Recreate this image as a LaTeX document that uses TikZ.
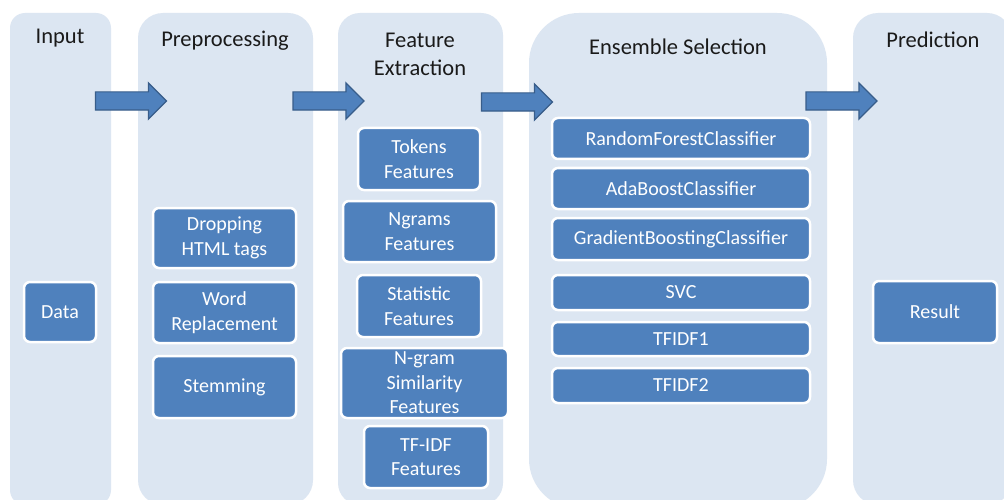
\documentclass[tikz,border=0pt]{standalone}
\usepackage{fontspec}
\setmainfont{Carlito}
\usetikzlibrary{shapes.arrows}
\definecolor{lanefill}{HTML}{DCE6F2}
\definecolor{boxfill}{HTML}{4F81BD}
\definecolor{arrowline}{HTML}{385D8A}
\definecolor{titletext}{HTML}{1A1A1A}
\tikzset{
  lane/.style={fill=lanefill, draw=none, inner sep=0pt, outer sep=0pt, rectangle},
  lanetitle/.style={text=titletext, font=\fontsize{22.5}{28}\selectfont, align=center, inner sep=0pt},
  stepbox/.style={rectangle, fill=boxfill, draw=white, line width=2.5pt, rounded corners=6pt,
    text=white, font=\fontsize{20}{24.5}\selectfont, align=center, inner sep=0pt, outer sep=0pt},
  blockarrow/.style={single arrow, fill=boxfill, draw=arrowline, line width=1.2pt,
    minimum height=71pt, minimum width=35pt, single arrow head extend=9pt,
    inner sep=8.5pt, outer sep=0pt}
}
\begin{document}
\begin{tikzpicture}[x=1pt, y=-1pt]
\useasboundingbox (0,0) rectangle (1004,500);
\clip (0,0) rectangle (1004,500);
\fill[white] (0,0) rectangle (1004,500);

% lanes
\node[lane, rounded corners=15pt, minimum width=101pt, minimum height=492pt] (laneinput) at (60.5,259) {};
\node[lane, rounded corners=25pt, minimum width=175pt, minimum height=492pt] (lanepre) at (225.5,259) {};
\node[lane, rounded corners=22pt, minimum width=165pt, minimum height=492pt] (lanefe) at (420.5,259) {};
\node[lane, rounded corners=50pt, minimum width=298pt, minimum height=496pt] (laneens) at (678,261) {};
\node[lane, rounded corners=25pt, minimum width=159pt, minimum height=492pt] (lanepred) at (932.5,259) {};

% titles
\node[lanetitle] (tinput) at (60,38) {Input};
\node[lanetitle] (tpre) at (225,41) {Preprocessing};
\node[lanetitle] (tfe) at (420,54) {Feature\\Extraction};
\node[lanetitle] (tens) at (678,47) {Ensemble Selection};
\node[lanetitle] (tpred) at (933,40) {Prediction};

% arrows
\node[blockarrow] (arr1) at (126.5,101) {};
\node[blockarrow] (arr2) at (324,101) {};
\node[blockarrow] (arr3) at (512.5,102) {};
\node[blockarrow] (arr4) at (837,101) {};

% input
\node[stepbox, minimum width=72pt, minimum height=60pt] (data) at (60,312) {Data};

% preprocessing
\node[stepbox, minimum width=143pt, minimum height=60pt] (drop) at (224.5,238) {Dropping\\HTML tags};
\node[stepbox, minimum width=143pt, minimum height=61pt] (word) at (224.5,312.5) {Word\\Replacement};
\node[stepbox, minimum width=143pt, minimum height=62pt] (stem) at (224.5,387) {Stemming};

% feature extraction
\node[stepbox, minimum width=122pt, minimum height=62pt] (tok) at (419,159) {Tokens\\Features};
\node[stepbox, minimum width=153pt, minimum height=61pt] (ngr) at (419.5,231.5) {Ngrams\\Features};
\node[stepbox, minimum width=124pt, minimum height=62pt] (stat) at (419,306) {Statistic\\Features};
\node[stepbox, minimum width=167pt, minimum height=70pt] (sim) at (424.5,383) {N-gram\\Similarity\\Features};
\node[stepbox, minimum width=124pt, minimum height=62pt] (tfidf) at (426,457) {TF-IDF\\Features};

% ensemble selection
\node[stepbox, minimum width=258pt, minimum height=41pt] (rf) at (681,138.5) {RandomForestClassifier};
\node[stepbox, minimum width=258pt, minimum height=41pt] (ada) at (681,188.5) {AdaBoostClassifier};
\node[stepbox, minimum width=258pt, minimum height=42pt] (gb) at (681,239) {GradientBoostingClassifier};
\node[stepbox, minimum width=258pt, minimum height=35pt] (svc) at (681,292.5) {SVC};
\node[stepbox, minimum width=258pt, minimum height=34pt] (tf1) at (681,339) {TFIDF1};
\node[stepbox, minimum width=258pt, minimum height=35pt] (tf2) at (681,385.5) {TFIDF2};

% prediction
\node[stepbox, minimum width=124pt, minimum height=62pt] (res) at (935,312) {Result};
\end{tikzpicture}
\end{document}
